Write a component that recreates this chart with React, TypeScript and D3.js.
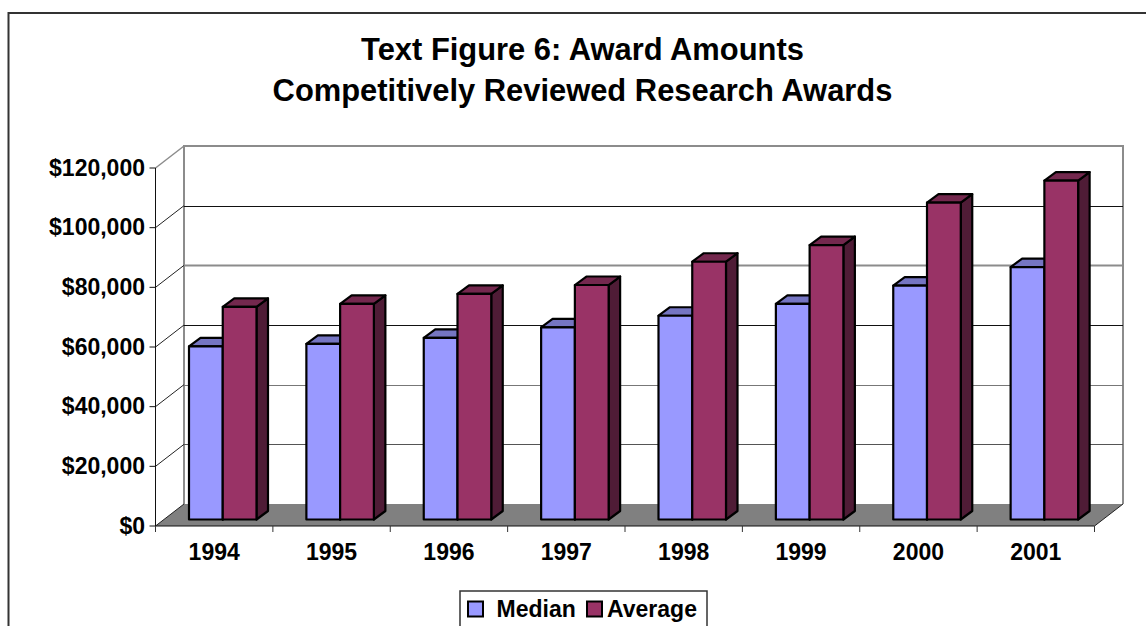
import * as d3 from 'd3';

const years = ['1994', '1995', '1996', '1997', '1998', '1999', '2000', '2001'];
const median = [58000, 58900, 60900, 64400, 68300, 72300, 78400, 84600];
const average = [71300, 72300, 75600, 78600, 86400, 92000, 106200, 113600];
const yTicks = [0, 20000, 40000, 60000, 80000, 100000, 120000];
const seriesNames = ['Median', 'Average'];
const titleLines = ['Text Figure 6: Award Amounts', 'Competitively Reviewed Research Awards'];

const font = '"Liberation Sans", Arial, sans-serif';
const W = 1146, H = 626;

// fake 3d: floor and walls sit behind the front axis plane by this offset
const depthX = 28.5, depthY = -22;
const barDX = 11.5, barDY = -8.5;
const colors = [
  { front: '#9999ff', top: '#7575c2', side: '#4d4d80' },
  { front: '#993366', top: '#74284e', side: '#4f1c36' },
];

const x = d3.scaleBand().domain(years).range([155.5, 1094.5]);
const y = d3.scaleLinear().domain([0, 120000]).range([526, 168]);
const fmt = d3.format('$,');

// bars stand on a line slightly behind the front edge of the floor
const barBase = 519.5;
const barH = (v: number) => y(0) - y(v);
const sub = d3.scaleBand().domain(seriesNames).range([33.5, 101]);

const poly = (pts: [number, number][]) => d3.line()(pts) + 'Z';
const gridY = (v: number) => Math.round(y(v) + depthY) + 0.5;

export default function App() {
  const left = x.range()[0], right = x.range()[1];
  const backLeft = left + depthX, backRight = right + depthX;
  const gridCol = (v: number) => (v === 80000 ? '#8c8c8c' : v === 40000 ? '#777' : v === 20000 ? '#555' : '#111');

  return (
    <svg width={W} height={H} style={{ position: 'absolute', left: 0, top: 0, display: 'block', background: '#fff' }} fontFamily={font}>
      <path d={`M8.5 ${H}V13H${W}`} fill="none" stroke="#333" strokeWidth={2} />

      {titleLines.map((t, i) => (
        <text key={t} x={582.5} y={60 + i * 41} textAnchor="middle" fontSize={30.9} fontWeight={700} fill="#000">{t}</text>
      ))}

      {/* floor */}
      <path d={poly([[left, y(0)], [right, y(0)], [backRight, y(0) + depthY], [backLeft, y(0) + depthY]])} fill="#808080" />

      {/* back wall + side wall edges */}
      <path d={`M${backLeft} ${y(0) + depthY}V${y(120000) + depthY}H${backRight}V${y(0) + depthY}`} fill="none" stroke="#8c8c8c" strokeWidth={2} />

      {yTicks.filter(v => v > 0 && v < 120000).map(v => (
        <line key={v} x1={backLeft} x2={backRight} y1={gridY(v)} y2={gridY(v)} stroke={gridCol(v)} strokeWidth={v === 80000 ? 2 : 1} />
      ))}
      {yTicks.map(v => (
        <line key={v} x1={left} y1={y(v)} x2={backLeft} y2={y(v) + depthY} stroke={v === 120000 ? '#8c8c8c' : '#222'} strokeWidth={v === 120000 ? 1.5 : 1} />
      ))}

      {/* axes */}
      <line x1={left} x2={left} y1={y(120000)} y2={y(0)} stroke="#111" />
      <line x1={left} x2={right} y1={y(0)} y2={y(0)} stroke="#111" />
      <line x1={right} y1={y(0)} x2={backRight} y2={y(0) + depthY} stroke="#222" />
      {yTicks.map(v => (
        <g key={v}>
          <line x1={left - 6} x2={left} y1={y(v)} y2={y(v)} stroke="#111" />
          <text x={145} y={y(v)} dy="0.33em" textAnchor="end" fontSize={23} fontWeight={700}>{fmt(v)}</text>
        </g>
      ))}
      {[...years.map(d => x(d)!), right].map(v => (
        <line key={v} x1={v} x2={v} y1={y(0)} y2={y(0) + 6} stroke="#333" />
      ))}
      {years.map(d => (
        <text key={d} x={x(d)! + x.bandwidth() / 2} y={560} textAnchor="middle" fontSize={23} fontWeight={700}>{d}</text>
      ))}

      {/* bars */}
      {years.map((d, i) => (
        <g key={d} stroke="#000" strokeWidth={2.2} strokeLinejoin="round">
          {[median[i], average[i]].map((v, s) => {
            const x0 = x(d)! + sub(seriesNames[s])!;
            const x1 = x0 + sub.bandwidth();
            const top = barBase - barH(v);
            return (
              <g key={s}>
                <path d={poly([[x1, top], [x1 + barDX, top + barDY], [x1 + barDX, barBase + barDY], [x1, barBase]])} fill={colors[s].side} />
                <path d={poly([[x0, top], [x0 + barDX, top + barDY], [x1 + barDX, top + barDY], [x1, top]])} fill={colors[s].top} />
                <rect x={x0} y={top} width={x1 - x0} height={barBase - top} fill={colors[s].front} />
              </g>
            );
          })}
        </g>
      ))}

      {/* legend, cut off by the bottom of the picture */}
      <rect x={460} y={591} width={247} height={50} fill="#fff" stroke="#333" strokeWidth={1.5} />
      <rect x={468} y={601.5} width={15} height={15} fill={colors[0].front} stroke="#000" strokeWidth={2} />
      <text x={496.5} y={617} fontSize={23} fontWeight={700}>{seriesNames[0]}</text>
      <rect x={587} y={601.5} width={15} height={15} fill={colors[1].front} stroke="#000" strokeWidth={2} />
      <text x={607} y={617} fontSize={23} fontWeight={700}>{seriesNames[1]}</text>
    </svg>
  );
}
